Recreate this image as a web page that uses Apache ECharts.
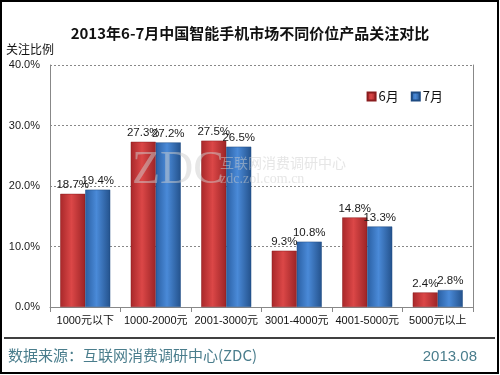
<!DOCTYPE html>
<html><head><meta charset="utf-8">
<script src="https://cdn.jsdelivr.net/npm/echarts@6/dist/echarts.min.js"></script>
<style>html,body{margin:0;padding:0;background:#fff}#c{width:500px;height:375px}</style>
</head><body><div id="c"></div>
<script>
const categories = ['1000元以下','1000-2000元','2001-3000元','3001-4000元','4001-5000元','5000元以上'];
const june = [18.7, 27.3, 27.5, 9.3, 14.8, 2.4];
const july = [19.4, 27.2, 26.5, 10.8, 13.3, 2.8];
const seriesNames = ['6月','7月'];
const yTicks = [0, 10, 20, 30, 40];

const SANS = '"Liberation Sans", "Noto Sans CJK SC", sans-serif';
const CJK = '"Noto Sans CJK SC", sans-serif';
const chart = echarts.init(document.getElementById('c'), null, {renderer:'canvas'});
function grad(c1, c2, c3){
  return new echarts.graphic.LinearGradient(0,0,1,0,[
    {offset:0,color:c1},{offset:0.45,color:c2},{offset:1,color:c3}]);
}
const redFill = grad('#a8282a','#db4747','#9c2426');
const blueFill = grad('#2a5fa2','#4a8ad8','#24528c');
const labelCommon = {show:true, position:'top', distance:3, color:'#1a1a1a',
  fontFamily:SANS, fontSize:11.5, formatter: p => p.value.toFixed(1)+'%'};
chart.setOption({
  animation:false,
  backgroundColor:'#fff',
  title:{text:'2013年6-7月中国智能手机市场不同价位产品关注对比', left:'center', top:21,
    textStyle:{fontFamily:CJK, fontSize:15, fontWeight:'bold', color:'#111'}},
  legend:{data:seriesNames, right:52, top:85, itemWidth:8, itemHeight:8, itemGap:12,
    icon:'rect',
    textStyle:{fontFamily:CJK, fontSize:13, color:'#111', padding:[0,0,0,-2]}},
  grid:{left:50, right:27, top:65, bottom:68, containLabel:false},
  xAxis:{type:'category', data:categories,
    axisLine:{lineStyle:{color:'#888'}},
    axisTick:{show:true, length:5, lineStyle:{color:'#888'}},
    axisLabel:{color:'#111', fontFamily:SANS, fontSize:11, margin:8, interval:0}},
  yAxis:[{type:'value', min:yTicks[0], max:yTicks[yTicks.length-1], interval:10,
    name:'关注比例', nameLocation:'end', nameGap:10,
    nameTextStyle:{fontFamily:CJK, fontSize:12, color:'#111', align:'left', padding:[0,0,0,-44]},
    axisLine:{show:true, lineStyle:{color:'#888'}},
    axisTick:{show:false},
    axisLabel:{color:'#1a1a1a', fontFamily:SANS, fontSize:11, margin:10, formatter:v=>v.toFixed(1)+'%'},
    splitLine:{show:true, lineStyle:{color:'#888', type:[2,2], width:1}}},
   {type:'value', min:0, max:40, interval:10, position:'right',
    axisLine:{show:true, lineStyle:{color:'#888'}}, axisTick:{show:false}, axisLabel:{show:false}, splitLine:{show:false}}],
  series:[
    {name:seriesNames[0], type:'bar', data:june, barWidth:25, barGap:'0%',
      itemStyle:{color:redFill, borderColor:'#8a1c1e', borderWidth:0.5}, label:labelCommon},
    {name:seriesNames[1], type:'bar', data:july, barWidth:25,
      itemStyle:{color:blueFill, borderColor:'#1e4b82', borderWidth:0.5}, label:labelCommon}
  ],
  graphic:[
    {type:'rect', shape:{x:1,y:1,width:497,height:372}, style:{fill:'none', stroke:'#000', lineWidth:2}, silent:true, z:100},
    {type:'line', shape:{x1:4,y1:338,x2:495,y2:338}, style:{stroke:'#000', lineWidth:1.5}},
    {type:'text', left:8, top:348, style:{text:'数据来源：互联网消费调研中心(ZDC)', fill:'#4a7d8c', font:'15px "Noto Sans CJK SC", sans-serif'}},
    {type:'text', right:23, top:349, style:{text:'2013.08', fill:'#4a7d8c', font:'15px "Liberation Sans", sans-serif'}},
    {type:'text', left:132, top:148, z:50, style:{text:'ZDC', fill:'rgba(205,205,205,0.5)', font:'46px "Liberation Serif", serif'}},
    {type:'text', left:220, top:156, z:50, style:{text:'互联网消费调研中心', fill:'rgba(205,205,205,0.5)', font:'14px "Noto Sans CJK SC", sans-serif'}},
    {type:'text', left:220, top:172, z:50, style:{text:'zdc.zol.com.cn', fill:'rgba(205,205,205,0.5)', font:'14px "Liberation Serif", serif'}}
  ]
});
</script></body></html>
